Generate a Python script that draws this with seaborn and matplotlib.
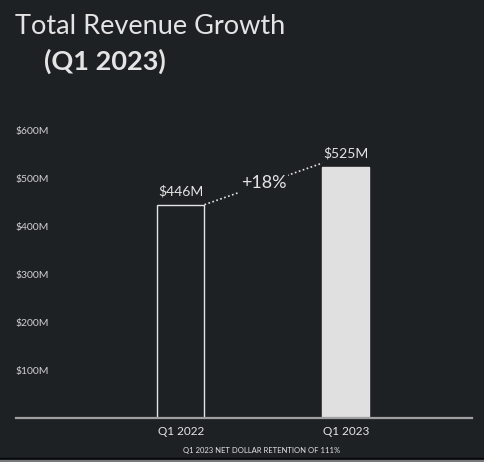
import matplotlib
matplotlib.use("Agg")
import matplotlib.pyplot as plt
from matplotlib.lines import Line2D
import seaborn as sns
import pandas as pd

quarters = ["Q1 2022", "Q1 2023"]
revenue = [446, 525]
value_labels = ["$446M", "$525M"]
ytick_values = [100, 200, 300, 400, 500, 600]
ytick_labels = ["$100M", "$200M", "$300M", "$400M", "$500M", "$600M"]
growth_label = "+18%"
title = "Total Revenue Growth"
subtitle = "(Q1 2023)"
footer = "Q1 2023 NET DOLLAR RETENTION OF 111%"

BG = "#1e2124"
TXT = "#e4e4e4"
LIGHT = "#e0e0e0"

sns.set_theme(style="dark")
plt.rcParams["font.family"] = ["Lato", "DejaVu Sans"]

fig = plt.figure(figsize=(4.84, 4.62), dpi=100, facecolor=BG)
W, H = 484, 462
ax = fig.add_axes([16 / W, 1 - 418 / H, (472 - 16) / W, (418 - 131) / H])
ax.set_facecolor(BG)

df = pd.DataFrame({"quarter": quarters, "revenue": revenue})
bw = 0.285
sns.barplot(data=df, x="quarter", y="revenue", hue="quarter",
            palette=[BG, LIGHT], saturation=1, legend=False, width=bw, ax=ax,
            edgecolor=TXT, linewidth=1.0)
for p, ec in zip(ax.patches, [TXT, LIGHT]):
    p.set_edgecolor(ec)

ax.set_xlim(-1.0, 1.764)
ax.set_ylim(0, 600)
ax.set_xlabel("")
ax.set_ylabel("")
for s in ["top", "right", "left"]:
    ax.spines[s].set_visible(False)
ax.spines["bottom"].set_color("#a0a0a0")
ax.spines["bottom"].set_linewidth(1.6)
ax.grid(False)

ax.set_yticks(ytick_values)
ax.set_yticklabels(ytick_labels)
ax.tick_params(axis="y", length=0, pad=0, labelsize=7.5, labelcolor="#cfd0d1")
for lab in ax.get_yticklabels():
    lab.set_horizontalalignment("left")
ax.tick_params(axis="x", length=0, pad=6, labelsize=8.5, labelcolor=TXT)

for i, (v, lab) in enumerate(zip(revenue, value_labels)):
    ax.annotate(lab, (i, v), xytext=(0, 5), textcoords="offset points",
                ha="center", va="bottom", fontsize=10, color=TXT)

x0, y0 = 0 + bw / 2, revenue[0]
x1, y1 = 1 - bw / 2, revenue[1] + 8
ax.plot([x0, x1], [y0, y1], color=TXT, linestyle=(0, (1, 1.5)), linewidth=1.2, clip_on=False)
ax.text((x0 + x1) / 2, (y0 + y1) / 2 + 2, growth_label, ha="center", va="center",
        fontsize=13, color=TXT,
        bbox=dict(facecolor=BG, edgecolor="none", pad=1.5))

fig.text(15 / W, 1 - 26 / H, title, ha="left", va="center", fontsize=19.5, color=TXT)
fig.text(44 / W, 1 - 61 / H, subtitle, ha="left", va="center", fontsize=19.5,
         fontweight="bold", color=TXT)
fig.text(262 / W, 1 - 451 / H, footer, ha="center", va="center", fontsize=5.5, color=TXT)

fig.add_artist(Line2D([0, 1], [1 - 457.5 / H] * 2, color="#050607", linewidth=1.0))
fig.add_artist(Line2D([0, 1], [1 - 460.5 / H] * 2, color="#8a8c8e", linewidth=1.2))

fig.savefig("out.png", dpi=100, facecolor=BG)
